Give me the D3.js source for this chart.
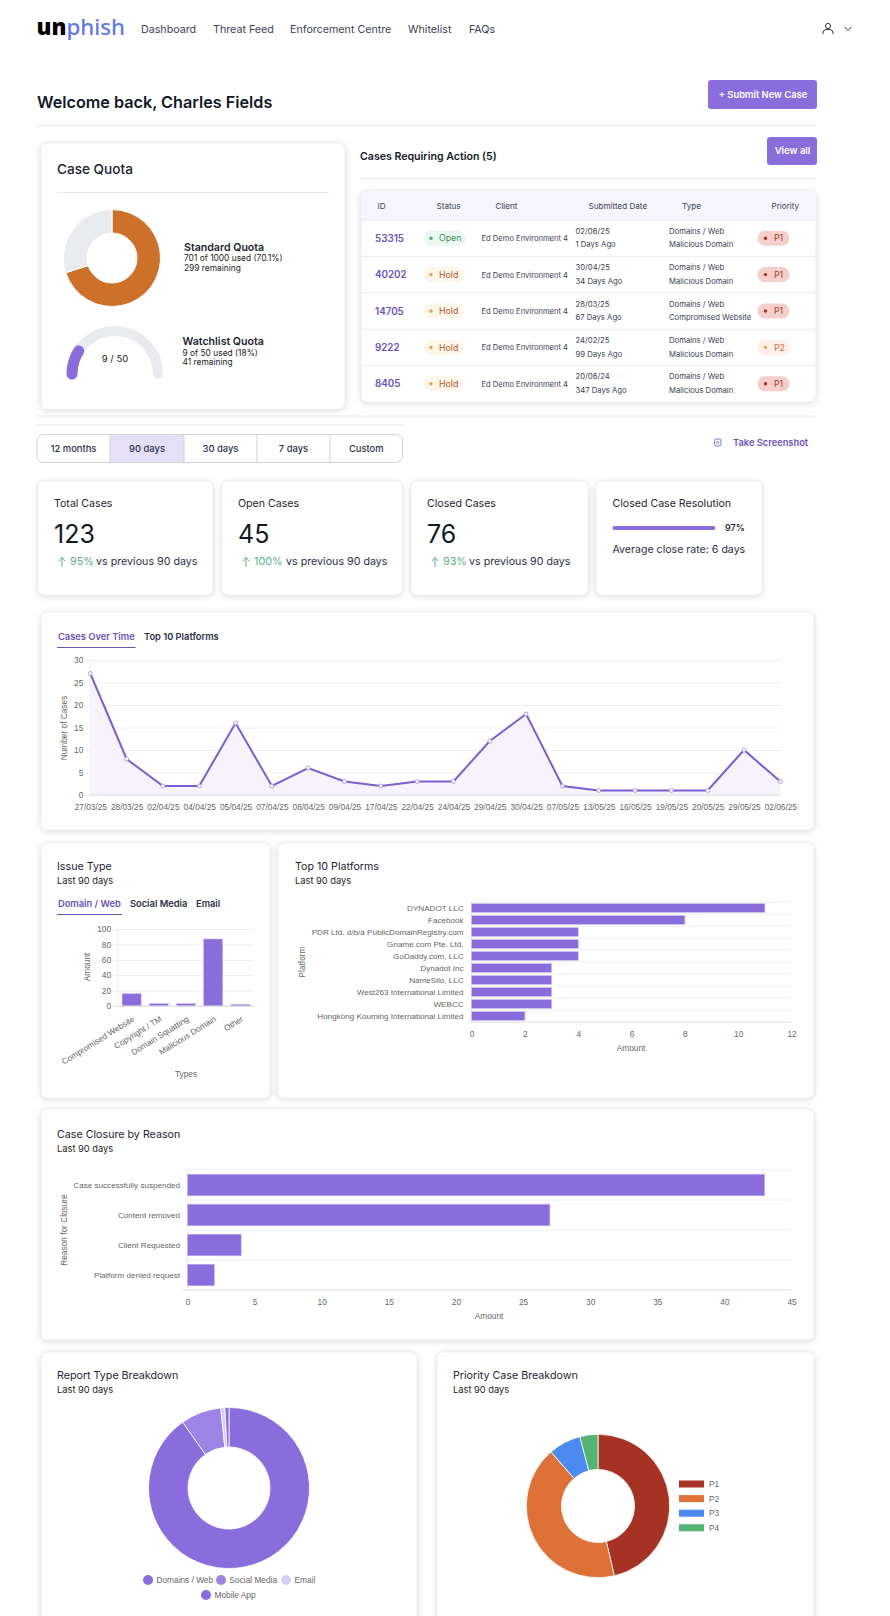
<!DOCTYPE html>
<html><head><meta charset="utf-8">
<script src="https://cdn.jsdelivr.net/npm/d3@7"></script>
<style>
html,body{margin:0;padding:0;background:#fff;overflow:hidden}
svg{display:block}
text{font-family:Inter,sans-serif}
.card{fill:#fff;stroke:#eef0f3;stroke-width:1;filter:drop-shadow(0 1px 3px rgba(0,0,0,.14))}
.axis text{font-family:"Liberation Sans",sans-serif;font-size:8.3px;fill:#666}
.axis.cat text{font-size:8.1px}
.axis .domain{display:none}
</style></head><body><div id="app"></div>
<script>
// ---- data ----
const navItems=["Dashboard","Threat Feed","Enforcement Centre","Whitelist","FAQs"];
const quotaUsed=701, quotaTotal=1000, watchUsed=9, watchTotal=50;
const tableHeaders=["ID","Status","Client","Submitted Date","Type","Priority"];
const caseIds=["53315","40202","14705","9222","8405"];
const caseStatus=["Open","Hold","Hold","Hold","Hold"];
const caseClient=["Ed Demo Environment 4","Ed Demo Environment 4","Ed Demo Environment 4","Ed Demo Environment 4","Ed Demo Environment 4"];
const caseDates=["02/06/25","30/04/25","28/03/25","24/02/25","20/06/24"];
const caseAges=["1 Days Ago","34 Days Ago","67 Days Ago","99 Days Ago","347 Days Ago"];
const caseType=["Domains / Web","Domains / Web","Domains / Web","Domains / Web","Domains / Web"];
const caseSub=["Malicious Domain","Malicious Domain","Compromised Website","Malicious Domain","Malicious Domain"];
const casePriority=["P1","P1","P1","P2","P1"];
const periods=["12 months","90 days","30 days","7 days","Custom"];
const statTitles=["Total Cases","Open Cases","Closed Cases"];
const statValues=["123","45","76"];
const statChange=["95%","100%","93%"];
const resolutionPct=97;
const timeLabels=["27/03/25","28/03/25","02/04/25","04/04/25","05/04/25","07/04/25","08/04/25","09/04/25","17/04/25","22/04/25","24/04/25","29/04/25","30/04/25","07/05/25","13/05/25","16/05/25","19/05/25","20/05/25","29/05/25","02/06/25"];
const timeValues=[27,8,2,2,16,2,6,3,2,3,3,12,18,2,1,1,1,1,10,3];
const issueTypes=["Compromised Website","Copyright / TM","Domain Squatting","Malicious Domain","Other"];
const issueValues=[16,3,3,87,2];
const platformNames=["DYNADOT LLC","Facebook","PDR Ltd. d/b/a PublicDomainRegistry.com","Gname.com Pte. Ltd.","GoDaddy.com, LLC","Dynadot Inc","NameSilo, LLC","West263 International Limited","WEBCC","Hongkong Kouming International Limited"];
const platformValues=[11,8,4,4,4,3,3,3,3,2];
const closureReasons=["Case successfully suspended","Content removed","Client Requested","Platform denied request"];
const closureValues=[43,27,4,2];
const reportTypes=["Domains / Web","Social Media","Email","Mobile App"];
const reportValues=[111,10,1,1];
const reportColors=["#8a6cdd","#9d83e3","#d8cff5","#8a6cdd"];
const priorityNames=["P1","P2","P3","P4"];
const priorityValues=[57,52,9,5];
const priorityColors=["#a63224","#de7138","#4d8af0","#55b374"];

// ---- helpers ----
const PURPLE="#8a6cdd", DARKP="#6a52b8", GRID="#eeeeee", HELV="'Liberation Sans'";
const svg=d3.select("#app").append("svg").attr("width",890).attr("height",1616).attr("viewBox","0 0 890 1616");
function T(x,y,s,o={}){const t=svg.append("text").attr("x",x).attr("y",y).text(s)
  .attr("font-size",o.size||10).attr("font-weight",o.weight||400).attr("fill",o.fill||"#111827")
  .attr("text-anchor",o.anchor||"start");
  if(o.font) t.style("font-family",o.font);
  if(o.ls) t.attr("letter-spacing",o.ls);
  return t;}
function CL(x,y,s,anchor){return T(x,y,s,{size:8.3,fill:"#666",font:HELV,anchor:anchor||"start"});}
function rule(x1,x2,y,c="#e7e8ec"){svg.append("line").attr("x1",x1).attr("x2",x2).attr("y1",y).attr("y2",y).attr("stroke",c);}
function card(x,y,w,h){svg.append("rect").attr("class","card").attr("x",x).attr("y",y).attr("width",w).attr("height",h).attr("rx",6);}
function titled(x,y,title,sub){T(x,y,title,{size:10.7,fill:"#1f2433"});T(x,y+13.5,sub,{size:9.3,fill:"#222"});}
function tabs(y,items,xs,ux1,ux2){items.forEach((s,i)=>T(xs[i],y,s,{size:9.3,weight:600,fill:i?"#2d3048":DARKP}));
  svg.append("line").attr("x1",ux1).attr("x2",ux2).attr("y1",y+7.5).attr("y2",y+7.5).attr("stroke",DARKP);}
function rotLabel(x,y,s){svg.append("text").attr("transform",`translate(${x+3},${y}) rotate(-90)`).attr("text-anchor","middle").attr("font-size",8.3).attr("fill","#666").style("font-family",HELV).text(s);}

// ---- header ----
svg.append("text").attr("x",36.5).attr("y",35).style("font-family","'Noto Sans'").attr("font-size",22.3)
  .call(t=>{t.append("tspan").attr("font-weight",900).attr("fill","#000").text("un");
            t.append("tspan").attr("font-weight",500).attr("fill","#5f7ae6").text("phish");});
[141,213,290,408,469].forEach((x,i)=>T(x,32.5,navItems[i],{size:10.7,fill:"#3c4156"}));
const ic=svg.append("g").attr("fill","none").attr("stroke","#333").attr("stroke-width",1);
ic.append("circle").attr("cx",828).attr("cy",26).attr("r",2.6);
ic.append("path").attr("d","M823 34 v-1 q0-3 3-3.5 h4 q3 .5 3 3.5 v1");
ic.append("path").attr("d","M844.5 27 l3.5 3.5 l3.5-3.5");

T(37,108,"Welcome back, Charles Fields",{size:16.2,weight:600,fill:"#111827"});
svg.append("rect").attr("x",708).attr("y",80).attr("width",109).attr("height",29).attr("rx",3).attr("fill",PURPLE);
T(763,98,"+ Submit New Case",{size:9.4,weight:600,fill:"#fff",anchor:"middle"});
rule(37,817,125.5);

// ---- case quota ----
card(41,143,304,266);
T(57,174,"Case Quota",{size:13.6,weight:500,fill:"#1a1f2e"});
rule(57,329,192.5);
const quotaG=svg.append("g").attr("transform","translate(112,258)");
const pieQ=d3.pie().sort(null)([quotaUsed,quotaTotal-quotaUsed]);
const arcQ=d3.arc().innerRadius(25).outerRadius(48.5);
quotaG.selectAll("path").data(pieQ).join("path").attr("d",arcQ).attr("fill",(d,i)=>i?"#e9ebef":"#cc702a").attr("stroke","#fff").attr("stroke-width",1);
T(184,251,"Standard Quota",{size:10.6,weight:600,fill:"#1a1f2e"});
T(184,261,"701 of 1000 used (70.1%)",{size:8.4,fill:"#222"});
T(184,271,"299 remaining",{size:8.4,fill:"#222"});
const gaugeG=svg.append("g").attr("transform","translate(115,374)");
const angle=d3.scaleLinear().domain([0,watchTotal]).range([-Math.PI/2,Math.PI/2]);
const arcG=d3.arc().innerRadius(43).outerRadius(43);
gaugeG.append("path").attr("d",arcG({startAngle:angle(0),endAngle:angle(watchTotal)})).attr("fill","none").attr("stroke","#e9ebef").attr("stroke-width",10).attr("stroke-linejoin","round");
gaugeG.append("path").attr("d",arcG({startAngle:angle(0),endAngle:angle(watchUsed)})).attr("fill","none").attr("stroke",PURPLE).attr("stroke-width",11).attr("stroke-linejoin","round");
T(115,362,`${watchUsed} / ${watchTotal}`,{size:9.5,anchor:"middle",fill:"#222"});
T(182.5,345,"Watchlist Quota",{size:10.6,weight:600,fill:"#1a1f2e"});
T(182.5,356,"9 of 50 used (18%)",{size:8.4,fill:"#222"});
T(182.5,365,"41 remaining",{size:8.4,fill:"#222"});

// ---- cases table ----
T(360,160,"Cases Requiring Action (5)",{size:10.6,weight:600,fill:"#111827"});
svg.append("rect").attr("x",767).attr("y",137).attr("width",50).attr("height",28).attr("rx",3).attr("fill",PURPLE);
T(792.5,154,"View all",{size:9.5,weight:600,fill:"#fff",anchor:"middle"});
rule(360,817,178.5);
card(361,191,455,211);
svg.append("path").attr("d","M361.5 220 V197 a6 6 0 0 1 6-6 H809.5 a6 6 0 0 1 6 6 V220 Z").attr("fill","#f6f5fd");
const rowTop=220,rowH=36.4;
rule(361,816,220);
[377.5,436.5,495.5,588.5,682,771.5].forEach((x,i)=>T(x,209,tableHeaders[i],{size:8.1,fill:"#3c4156"}));
const pillStatus={Open:["#eaf8ef","#4caf6e","#3f8f5e",42],Hold:["#fdf6ea","#ee9a4d","#b4581e",40]};
const pillPrio={P1:["#f5cfcb","#a63224","#a33a2d",32],P2:["#fdf0ea","#ee9a4d","#d06a3a",33]};
caseIds.forEach((id,i)=>{
  const c=rowTop+rowH*(i+.5);
  if(i) rule(361,816,rowTop+rowH*i,"#e9eaee");
  T(375,c+3.5,id,{size:9.8,weight:600,fill:DARKP});
  const ps=pillStatus[caseStatus[i]];
  svg.append("rect").attr("x",424).attr("y",c-7.5).attr("width",ps[3]).attr("height",15).attr("rx",7.5).attr("fill",ps[0]);
  svg.append("circle").attr("cx",431).attr("cy",c).attr("r",1.7).attr("fill",ps[1]);
  T(439,c+3.2,caseStatus[i],{size:8.8,weight:400,fill:ps[2]});
  T(481.5,c+3,caseClient[i],{size:7.6,fill:"#3c4156"});
  T(575.5,c-4.5,caseDates[i],{size:7.7,fill:"#3c4156"});
  T(575.5,c+9.2,caseAges[i],{size:7.7,fill:"#3c4156"});
  T(669,c-4.5,caseType[i],{size:7.7,fill:"#3c4156"});
  T(669,c+9.2,caseSub[i],{size:7.7,fill:"#3c4156"});
  const pp=pillPrio[casePriority[i]];
  svg.append("rect").attr("x",757.5).attr("y",c-7.5).attr("width",pp[3]).attr("height",15).attr("rx",7.5).attr("fill",pp[0]);
  svg.append("circle").attr("cx",765.5).attr("cy",c).attr("r",1.7).attr("fill",pp[1]);
  T(774,c+3.2,casePriority[i],{size:8.8,fill:pp[2]});
});
rule(37,817,416);
rule(37,403,425);

// ---- period tabs ----
const tabX=[37,110,184,257,330,402.5];
svg.append("rect").attr("x",110).attr("y",434.5).attr("width",74).attr("height",28).attr("fill","#e5dff8");
svg.append("rect").attr("x",37).attr("y",434.5).attr("width",365.5).attr("height",28).attr("rx",6).attr("fill","none").attr("stroke","#cfd2d9");
[110,184,257,330].forEach(x=>svg.append("line").attr("x1",x).attr("x2",x).attr("y1",434.5).attr("y2",462.5).attr("stroke","#cfd2d9"));
periods.forEach((p,i)=>T((tabX[i]+tabX[i+1])/2,452,p,{size:9.4,weight:500,fill:"#2d3048",anchor:"middle"}));
svg.append("rect").attr("x",724.5-10).attr("y",439).attr("width",6.5).attr("height",7).attr("rx",1.6).attr("fill","none").attr("stroke",DARKP).attr("stroke-width",.8);
svg.append("circle").attr("cx",717.7).attr("cy",442.6).attr("r",1.2).attr("fill","none").attr("stroke",DARKP).attr("stroke-width",.7);
T(733,446,"Take Screenshot",{size:9.3,weight:600,fill:DARKP});

// ---- stat cards ----
[[38,175],[222,180],[411,177]].forEach(([x,w],i)=>{
  card(x,481,w,114);
  const tx=x+16;
  T(tx,507,statTitles[i],{size:10.6,fill:"#1f2433"});
  T(tx,543,statValues[i],{size:25,weight:400,fill:"#111827"});
  const ax=tx+8;
  svg.append("path").attr("d",`M${ax} 567 V557.5 M${ax-3} 561 L${ax} 557.5 L${ax+3} 561`).attr("fill","none").attr("stroke","#5bb07e").attr("stroke-width",1);
  T(tx+16,565,statChange[i],{size:10.8,fill:"#5bb07e"});
  T(tx+16+[26,32,26][i],565,"vs previous 90 days",{size:10.7,fill:"#2d3048"});
});
card(596,481,166,114);
T(612.5,507,"Closed Case Resolution",{size:10.6,fill:"#1f2433"});
const progress=d3.scaleLinear().domain([0,100]).range([612.5,718.5]);
svg.append("line").attr("x1",progress(0)+2).attr("x2",progress(resolutionPct)-2).attr("y1",528).attr("y2",528).attr("stroke",PURPLE).attr("stroke-width",4).attr("stroke-linecap","round");
T(725,531,`${resolutionPct}%`,{size:9.2,weight:500,fill:"#222"});
T(612.5,553,"Average close rate: 6 days",{size:10.6,fill:"#2d3048"});

// ---- cases over time ----
card(41,612,773,218);
tabs(640,["Cases Over Time","Top 10 Platforms"],[58,144],57,135.5);
const lx=d3.scalePoint().domain(timeLabels).range([90.3,780.3]);
const ly=d3.scaleLinear().domain([0,30]).range([795,660]);
svg.append("g").attr("class","axis").attr("transform","translate(780.3,0)")
  .call(d3.axisLeft(ly).ticks(6).tickSize(695).tickPadding(2))
  .call(g=>g.selectAll("line").attr("stroke",GRID));
svg.append("line").attr("x1",90.3).attr("x2",90.3).attr("y1",660).attr("y2",795).attr("stroke",GRID);
svg.append("g").attr("class","axis").attr("transform","translate(0,795)")
  .call(d3.axisBottom(lx).tickSize(0).tickPadding(9));
svg.append("path").attr("d",d3.area().x((d,i)=>lx(timeLabels[i])).y0(ly(0)).y1(d=>ly(d))(timeValues)).attr("fill","#f6f3fc");
rule(90.3,780.3,795,"#e3e3e3");
svg.append("path").attr("d",d3.line().x((d,i)=>lx(timeLabels[i])).y(d=>ly(d))(timeValues)).attr("fill","none").attr("stroke","#7b5fcf").attr("stroke-width",2);
svg.selectAll(".pt").data(timeValues).join("circle").attr("class","pt").attr("cx",(d,i)=>lx(timeLabels[i])).attr("cy",d=>ly(d)).attr("r",2).attr("fill","#fff").attr("stroke","#a08ae2").attr("stroke-width",.8);
rotLabel(64,728,"Number of Cases");

// ---- issue type ----
card(41,843,229,255);
titled(57,870,"Issue Type","Last 90 days");
tabs(907,["Domain / Web","Social Media","Email"],[58,130,196],57,122);
const ix=d3.scaleBand().domain(issueTypes).range([118,254]).paddingInner(.3).paddingOuter(.15);
const iy=d3.scaleLinear().domain([0,100]).range([1006,929]);
svg.append("g").attr("class","axis").attr("transform","translate(254,0)")
  .call(d3.axisLeft(iy).ticks(5).tickSize(141).tickPadding(2))
  .call(g=>g.selectAll("line").attr("stroke",GRID));
svg.append("line").attr("x1",118).attr("x2",118).attr("y1",929).attr("y2",1006).attr("stroke",GRID);
svg.selectAll(".ibar").data(issueValues).join("rect").attr("class","ibar").attr("x",(d,i)=>ix(issueTypes[i])).attr("width",ix.bandwidth()).attr("y",d=>iy(d)).attr("height",d=>iy(0)-iy(d)).attr("fill",PURPLE).attr("stroke","#c5b8ef").attr("stroke-width",.5);
svg.append("g").attr("class","axis").attr("transform","translate(0,1006)")
  .call(d3.axisBottom(ix).tickSize(0))
  .call(g=>g.selectAll("text").attr("x",0).attr("y",0).attr("dy",".35em").attr("text-anchor","end").attr("transform","translate(2,12) rotate(-32)"));
rule(113,254,1006,"#dddddd");
rotLabel(87,967,"Amount");
CL(186,1077,"Types","middle");

// ---- top platforms ----
card(278,843,536,255);
titled(295,870,"Top 10 Platforms","Last 90 days");
hBars(platformNames,platformValues,d3.scaleLinear().domain([0,12]).range([471.6,791.5]),902,1022,6,8);
CL(631,1051,"Amount","middle");
rotLabel(301.5,962,"Platform");

function hBars(names,vals,x,y0,y1,nt,pad){
  const y=d3.scaleBand().domain(names).range([y0,y1]).paddingInner(.28).paddingOuter(.14);
  const x0=x.range()[0],x1=x.range()[1];
  names.forEach((n,i)=>rule(x0-5,x1,y0+y.step()*i,GRID));
  rule(x0-5,x1,y1,"#dddddd");
  svg.append("line").attr("x1",x0).attr("x2",x0).attr("y1",y0).attr("y2",y1).attr("stroke",GRID);
  svg.append("g").selectAll("rect").data(vals).join("rect").attr("x",x0).attr("y",(d,i)=>y(names[i])).attr("height",y.bandwidth()).attr("width",d=>x(d)-x0).attr("fill",PURPLE).attr("stroke","#c5b8ef").attr("stroke-width",.6);
  svg.append("g").attr("class","axis cat").attr("transform",`translate(${x0},0)`).call(d3.axisLeft(y).tickSize(0).tickPadding(pad));
  svg.append("g").attr("class","axis").attr("transform",`translate(0,${y1})`).call(d3.axisBottom(x).ticks(nt).tickSize(0).tickPadding(9));
}

// ---- closure ----
card(41,1109,773,231);
titled(57,1138,"Case Closure by Reason","Last 90 days");
hBars(closureReasons,closureValues,d3.scaleLinear().domain([0,45]).range([187.5,791.5]),1170,1290,9,7.5);
CL(489,1319,"Amount","middle");
rotLabel(64,1230,"Reason for Closure");

// ---- report donut ----
card(41,1352,376,300);
titled(57,1379,"Report Type Breakdown","Last 90 days");
const pie=d3.pie().sort(null);
svg.append("g").attr("transform","translate(229,1488)").selectAll("path").data(pie(reportValues)).join("path")
  .attr("d",d3.arc().innerRadius(41).outerRadius(80.5)).attr("fill",(d,i)=>reportColors[i]).attr("stroke","#fff").attr("stroke-width",.8);
[[148,1580],[221,1580],[286,1580],[206,1595]].forEach(([x,y],i)=>{
  svg.append("circle").attr("cx",x).attr("cy",y).attr("r",5).attr("fill",reportColors[i]);
  CL(x+8.5,y+3,reportTypes[i]);
});

// ---- priority donut ----
card(437,1352,377,300);
titled(453,1379,"Priority Case Breakdown","Last 90 days");
svg.append("g").attr("transform","translate(598,1506)").selectAll("path").data(pie(priorityValues)).join("path")
  .attr("d",d3.arc().innerRadius(36.5).outerRadius(71.7)).attr("fill",(d,i)=>priorityColors[i]).attr("stroke","#fff").attr("stroke-width",.8);
priorityNames.forEach((p,i)=>{
  const y=1484+14.6*i;
  svg.append("rect").attr("x",679).attr("y",y-3.5).attr("width",25).attr("height",7).attr("fill",priorityColors[i]);
  CL(709,y+3,p);
});
</script></body></html>
